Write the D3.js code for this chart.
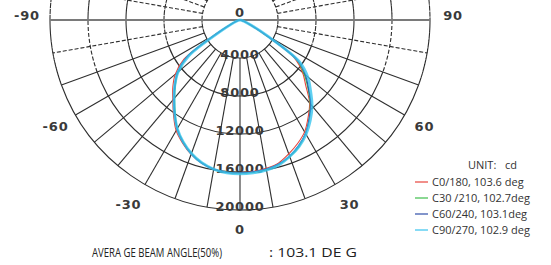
<!DOCTYPE html>
<html>
<head>
<meta charset="utf-8">
<script src="https://cdn.jsdelivr.net/npm/d3@7"></script>
<style>
  body { margin: 0; background: #fff; }
  svg { display: block; }
  .tick { font-family: "DejaVu Sans", sans-serif; font-weight: bold; font-size: 13px; fill: #3a3a3a; letter-spacing: 0.8px; }
  .legend { font-family: "Open Sans", "Liberation Sans", sans-serif; fill: #333; }
  .title { font-family: "Liberation Sans Narrow", "Open Sans", sans-serif; fill: #222; }
</style>
</head>
<body>
<svg id="polar" width="551" height="265"></svg>
<script>
// angles in degrees, 0 = straight down, negative = left
var angles = d3.range(-90, 91, 5);

var c0  = [0,50,100,250,500,1100,2800,7200,8900,10000,11000,12200,13450,14300,15050,15600,15950,16100,16050,16000,15850,15600,15000,14350,13600,12500,11400,9800,8600,7000,2700,1100,500,250,100,50,0];
var c30 = [0,50,100,250,450,1000,2500,6800,8500,9600,10700,11900,13200,14150,14950,15550,15950,16100,16100,16100,16000,15750,15300,14700,13800,12700,11500,10100,8800,7300,3000,1200,550,250,100,50,0];
var c60 = [0,50,100,250,450,1000,2600,6900,8600,9700,10800,12000,13250,14200,15000,15600,15950,16100,16100,16050,15950,15700,15250,14600,13800,12700,11600,10200,9000,7400,3100,1200,550,250,100,50,0];
var c90 = [0,50,100,200,400,900,2300,6600,8500,9700,10800,12000,13200,14150,14950,15550,15950,16150,16200,16150,16050,15800,15300,14700,13900,12900,11800,10500,9300,7600,3200,1300,600,250,100,50,0];

var seriesNames = ["C0/180, 103.6 deg", "C30 /210, 102.7deg", "C60/240, 103.1deg", "C90/270, 102.9 deg"];
var seriesColors = ["#e8453c", "#3fbf4c", "#2f4fa8", "#38c4ee"];
var ringTicks = [4000, 8000, 12000, 16000, 20000];
var angleTicks = [-90, -60, -30, 0, 30, 60, 90];

var svg = d3.select("svg#polar"),
    cx = 240, cy = 20,
    g = svg.append("g").attr("transform", "translate(" + cx + "," + cy + ")");

var r = d3.scaleLinear().domain([0, 20000]).range([0, 190]);

function toA(deg) { return Math.PI - deg * Math.PI / 180; }
function px(deg, rad) {
  return [Math.round(rad * Math.sin(toA(deg)) * 100) / 100, Math.round(-rad * Math.cos(toA(deg)) * 100) / 100];
}

var grid = g.append("g").attr("fill", "none").attr("stroke", "#2e2e2e").attr("stroke-width", 1.1);

// rings: solid in the lower part, dashed near and above the horizontal
var arc = d3.arc();
ringTicks.forEach(function(t) {
  var rr = r(t);
  [[-70, 70, null], [70, 90, "4,2"], [-90, -70, "4,2"], [90, 270, "4,2"]].forEach(function(s) {
    grid.append("path")
      .attr("d", arc({innerRadius: rr, outerRadius: rr, startAngle: toA(s[1]), endAngle: toA(s[0])}))
      .attr("stroke-dasharray", s[2]);
  });
});

// spokes every 10 deg, starting at the first ring
d3.range(-170, 181, 10).forEach(function(a) {
  if (Math.abs(a) === 90) return;
  var p0 = px(a, r(4000)), p1 = px(a, r(20000));
  grid.append("line")
    .attr("x1", p0[0]).attr("y1", p0[1]).attr("x2", p1[0]).attr("y2", p1[1])
    .attr("stroke-dasharray", Math.abs(a) >= 80 ? "4,2" : null);
});

// horizontal 90 deg line
g.append("line")
  .attr("x1", -r(20000)).attr("x2", r(20000)).attr("y1", 0).attr("y2", 0)
  .attr("stroke", "#7a7a7a").attr("stroke-width", 2.2);

// ring labels
g.selectAll(".rlab").data(ringTicks).enter().append("text")
  .attr("class", "tick rlab")
  .attr("x", 0).attr("y", function(d) { return r(d); })
  .attr("dy", "0.1em")
  .attr("text-anchor", "middle")
  .text(function(d) { return String(d); });

// angle labels in absolute page coordinates
function labelPos(d) {
  if (d === 0) return [cx, cy + r(20000) + 19];
  var p = px(d, 213);
  if (d === -30) p[0] -= 5;
  if (d === 30) p[0] += 3;
  if (Math.abs(d) === 90) p[1] -= 5;
  return [p[0] + cx, p[1] + cy];
}
angleTicks.forEach(function(d) {
  var p = labelPos(d);
  svg.append("text")
    .attr("class", "tick alab")
    .attr("x", p[0])
    .attr("y", p[1] + 4.5)
    .attr("text-anchor", "middle")
    .text(String(d));
});

svg.append("text").attr("class", "tick").attr("x", cx).attr("y", cy - 3)
  .attr("text-anchor", "middle").text("0");

// curves
var line = d3.lineRadial()
  .angle(function(d) { return toA(d[0]); })
  .radius(function(d) { return r(d[1]); })
  .curve(d3.curveCatmullRom);

var allSeries = [c0, c30, c60, c90];
var widths = [1.1, 1.1, 1.3, 2.8];
allSeries.forEach(function(vals, i) {
  g.append("path")
    .datum(angles.map(function(a, j) { return [a, vals[j]]; }))
    .attr("d", line)
    .attr("fill", "none")
    .attr("stroke", seriesColors[i])
    .attr("stroke-width", widths[i])
    .attr("stroke-opacity", i === 3 ? 0.8 : 1);
});

// legend
var leg = svg.append("g").attr("class", "legend").attr("font-size", 11);
leg.append("text").attr("x", 468).attr("y", 169).attr("xml:space", "preserve").text("UNIT:   cd");
seriesNames.forEach(function(n, i) {
  var y = 182 + i * 16;
  leg.append("line").attr("x1", 415).attr("x2", 428).attr("y1", y).attr("y2", y)
    .attr("stroke", seriesColors[i]).attr("stroke-width", 1.2);
  leg.append("text").attr("x", 432).attr("y", y + 4).text(n);
});

// footer
svg.append("text").attr("class", "title").attr("font-size", 13)
  .attr("x", 92).attr("y", 257).attr("textLength", 130).attr("lengthAdjust", "spacingAndGlyphs")
  .text("AVERA GE BEAM ANGLE(50%)");
svg.append("text").attr("class", "title").attr("font-size", 13)
  .attr("x", 269).attr("y", 257).attr("textLength", 88).attr("lengthAdjust", "spacingAndGlyphs")
  .text(": 103.1 DE G");
</script>
</body>
</html>
